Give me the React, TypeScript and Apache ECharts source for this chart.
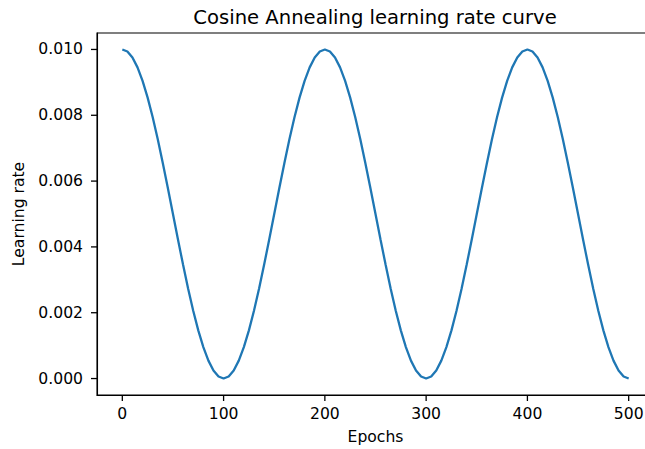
import React, { useEffect, useRef } from "react";
import * as echarts from "echarts";

const epochs: number[] = [
  0, 5, 10, 15, 20, 25, 30, 35, 40, 45, 50, 55, 60, 65, 70, 75, 80, 85, 90, 95,
  100, 105, 110, 115, 120, 125, 130, 135, 140, 145, 150, 155, 160, 165, 170, 175, 180, 185, 190, 195,
  200, 205, 210, 215, 220, 225, 230, 235, 240, 245, 250, 255, 260, 265, 270, 275, 280, 285, 290, 295,
  300, 305, 310, 315, 320, 325, 330, 335, 340, 345, 350, 355, 360, 365, 370, 375, 380, 385, 390, 395,
  400, 405, 410, 415, 420, 425, 430, 435, 440, 445, 450, 455, 460, 465, 470, 475, 480, 485, 490, 495,
  500,
];

const learningRate: number[] = [
  0.01, 0.009938, 0.009755, 0.009455, 0.009045, 0.008536, 0.007939, 0.00727, 0.006545, 0.005782,
  0.005, 0.004218, 0.003455, 0.00273, 0.002061, 0.001464, 0.000955, 0.000545, 0.000245, 0.000062,
  0.0, 0.000062, 0.000245, 0.000545, 0.000955, 0.001464, 0.002061, 0.00273, 0.003455, 0.004218,
  0.005, 0.005782, 0.006545, 0.00727, 0.007939, 0.008536, 0.009045, 0.009455, 0.009755, 0.009938,
  0.01, 0.009938, 0.009755, 0.009455, 0.009045, 0.008536, 0.007939, 0.00727, 0.006545, 0.005782,
  0.005, 0.004218, 0.003455, 0.00273, 0.002061, 0.001464, 0.000955, 0.000545, 0.000245, 0.000062,
  0.0, 0.000062, 0.000245, 0.000545, 0.000955, 0.001464, 0.002061, 0.00273, 0.003455, 0.004218,
  0.005, 0.005782, 0.006545, 0.00727, 0.007939, 0.008536, 0.009045, 0.009455, 0.009755, 0.009938,
  0.01, 0.009938, 0.009755, 0.009455, 0.009045, 0.008536, 0.007939, 0.00727, 0.006545, 0.005782,
  0.005, 0.004218, 0.003455, 0.00273, 0.002061, 0.001464, 0.000955, 0.000545, 0.000245, 0.000062,
  0.0,
];

const xTicks: number[] = [0, 100, 200, 300, 400, 500];
const yTicks: number[] = [0, 0.002, 0.004, 0.006, 0.008, 0.01];

const titleText = "Cosine Annealing learning rate curve";
const xName = "Epochs";
const yName = "Learning rate";

const X_MIN = -25;
const X_MAX = 525;
const Y_MIN = -0.0005;
const Y_MAX = 0.0105;

const FONT = "DejaVu Sans";
const FS = 15.6;
const TICK_LEN = 6;
const TICK_W = 1.3;

export default function App() {
  const ref = useRef<HTMLDivElement>(null);

  useEffect(() => {
    document.body.style.margin = "0";
    const chart = echarts.init(ref.current!, null, { renderer: "svg" });
    const data = epochs.map((e, i) => [e, learningRate[i]]);
    const titleGraphic = {
      type: "text",
      x: 375,
      y: 17,
      style: {
        text: titleText,
        font: `19.6px '${FONT}'`,
        fill: "#000",
        textAlign: "center",
        textVerticalAlign: "middle",
      },
    };
    chart.setOption({
      animation: false,
      backgroundColor: "#ffffff",
      textStyle: { fontFamily: FONT },
      graphic: [titleGraphic],
      grid: {
        left: 97,
        top: 33,
        width: 557,
        height: 362,
        show: true,
        borderColor: "#000",
        borderWidth: 1.1,
        backgroundColor: "transparent",
        containLabel: false,
        outerBoundsMode: "none",
      },
      xAxis: {
        type: "value",
        min: X_MIN,
        max: X_MAX,
        name: xName,
        nameLocation: "middle",
        nameGap: 34,
        nameTextStyle: { fontFamily: FONT, fontSize: FS, color: "#000" },
        axisLine: { show: true, onZero: false, lineStyle: { color: "#000", width: 1.1 } },
        splitLine: { show: false },
        axisTick: { show: false },
        axisLabel: {
          customValues: xTicks,
          margin: 11,
          fontFamily: FONT,
          fontSize: FS,
          color: "#000",
        },
      },
      yAxis: {
        type: "value",
        min: Y_MIN,
        max: Y_MAX,
        name: yName,
        nameLocation: "middle",
        nameGap: 68,
        nameRotate: 90,
        nameTextStyle: { fontFamily: FONT, fontSize: FS, color: "#000" },
        axisLine: { show: true, onZero: false, lineStyle: { color: "#000", width: 1.1 } },
        splitLine: { show: false },
        axisTick: { show: false },
        axisLabel: {
          customValues: yTicks,
          margin: 14,
          fontFamily: FONT,
          fontSize: FS,
          color: "#000",
          formatter: (v: number) => v.toFixed(3),
        },
      },
      series: [
        {
          type: "line",
          data,
          showSymbol: false,
          symbol: "none",
          smooth: false,
          lineStyle: { color: "#1f77b4", width: 2.3 },
          clip: true,
          z: 3,
        },
      ],
    });

    // Tick marks positioned through the chart's own scales, drawn as filled rects.
    const tickEls: any[] = [];
    xTicks.forEach((v) => {
      const p = chart.convertToPixel({ gridIndex: 0 }, [v, Y_MIN]) as number[];
      tickEls.push({
        type: "rect",
        z: 100,
        shape: { x: p[0] - TICK_W / 2, y: p[1], width: TICK_W, height: TICK_LEN },
        style: { fill: "#000" },
      });
    });
    yTicks.forEach((v) => {
      const p = chart.convertToPixel({ gridIndex: 0 }, [X_MIN, v]) as number[];
      tickEls.push({
        type: "rect",
        z: 100,
        shape: { x: p[0] - TICK_LEN, y: p[1] - TICK_W / 2, width: TICK_LEN, height: TICK_W },
        style: { fill: "#000" },
      });
    });
    chart.setOption({ graphic: [titleGraphic, ...tickEls] }, { replaceMerge: ["graphic"] });

    return () => chart.dispose();
  }, []);

  return (
    <div
      style={{
        position: "absolute",
        left: 0,
        top: 0,
        width: 645,
        height: 449,
        overflow: "hidden",
        background: "#fff",
      }}
    >
      <div ref={ref} style={{ width: 660, height: 449 }} />
    </div>
  );
}
